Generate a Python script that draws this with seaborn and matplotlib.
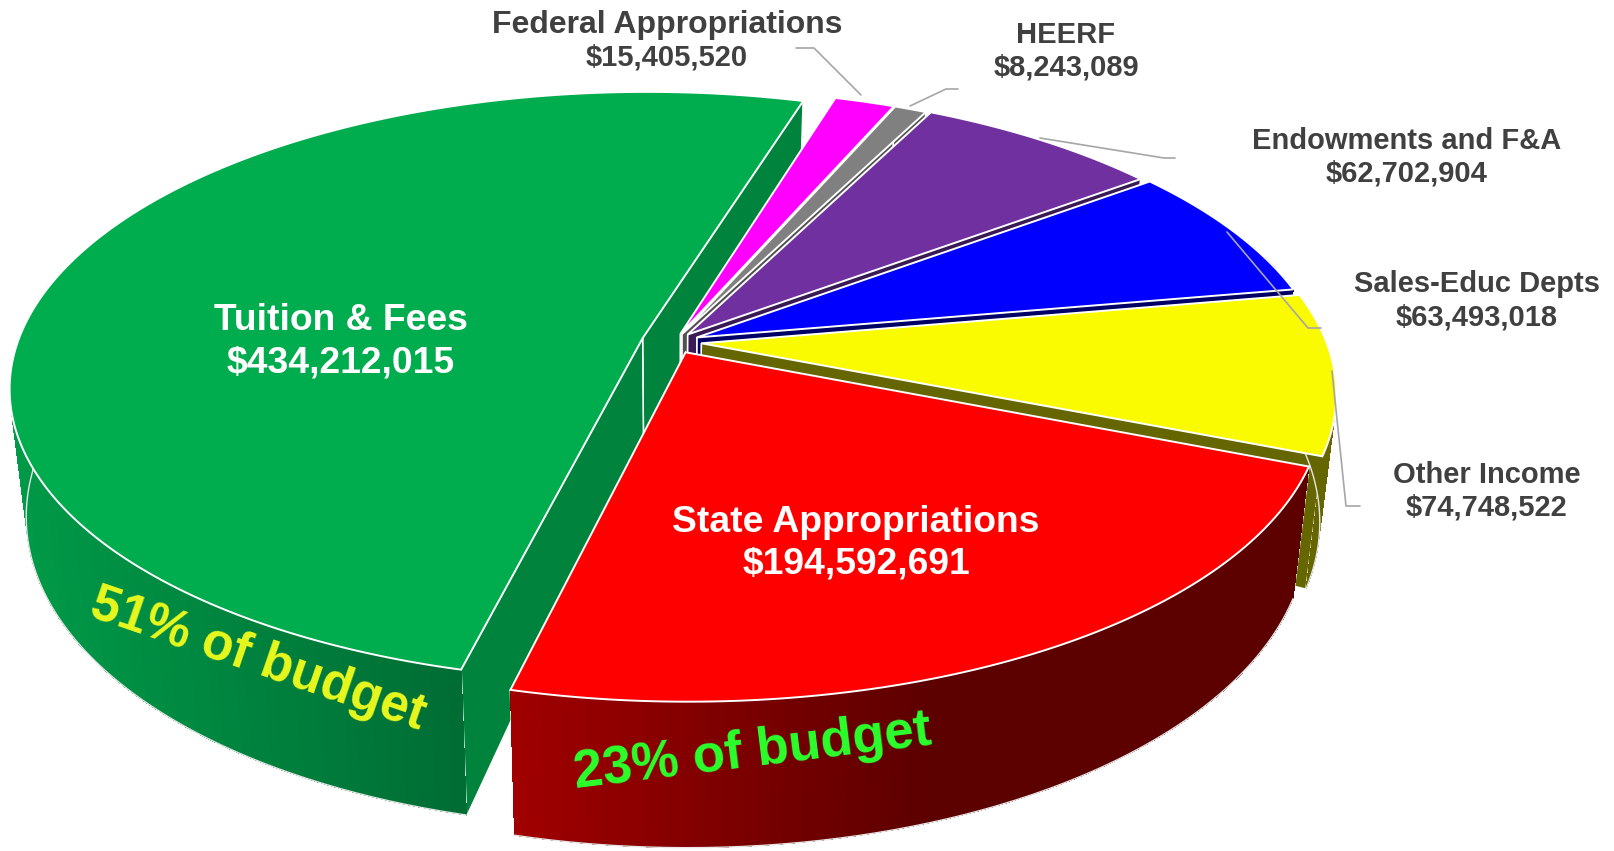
import numpy as np
import seaborn as sns
import matplotlib.pyplot as plt
from matplotlib.collections import PolyCollection
from matplotlib.colors import to_rgb

# counter-clockwise from the right edge of state appropriations
categories = ["Other Income", "Sales-Educ Depts", "Endowments and F&A", "HEERF",
              "Federal Appropriations", "Tuition & Fees", "State Appropriations"]
amounts = [74748522, 63493018, 62702904, 8243089, 15405520, 434212015, 194592691]
top_colors = ["#FAFA00", "#0000FF", "#7030A0", "#808080", "#FF00FF", "#00AD4E", "#FF0000"]
side_left = ["#666600", "#000066", "#3A1A55", "#505050", "#800080", "#009A48", "#A00000"]
side_right = ["#666600", "#000066", "#3A1A55", "#505050", "#800080", "#006C34", "#5C0000"]
explode = [0.044, 0.04, 0.034, 0.03, 0.03, 0.052, 0.04]
start_angle = -21.6

# projection of the pie plane onto the picture
CX, CY = 674, 342
A, B, K = 625, 288, 0.165

sns.set_theme(style="white")
plt.rcParams["font.family"] = ["Liberation Sans", "DejaVu Sans"]
palette = sns.color_palette(top_colors)

fig = plt.figure(figsize=(16.15, 8.51), dpi=100)
ax = fig.add_axes([0, 0, 1, 1])
ax.set_xlim(0, 1615)
ax.set_ylim(851, 0)
ax.axis("off")


def project(x, y):
    w = 1 + K * y
    return CX + A * x / w, CY - B * y / w


def lower(sx, sy, x, y, ex, ey):
    # drop from the top face to the bottom face
    r = np.hypot(x - ex, y - ey)
    yy = y - ey
    return sx - 0.025 * (sx - CX), sy + 96 + r * (28 - 22 * yy)


def draw_slice(i, t0, t1):
    mid = np.radians((t0 + t1) / 2)
    ex, ey = explode[i] * np.cos(mid), explode[i] * np.sin(mid)
    th = np.radians(np.linspace(t0, t1, max(int(t1 - t0) * 2, 8)))
    x, y = ex + np.cos(th), ey + np.sin(th)
    sx, sy = project(x, y)
    bx, by = lower(sx, sy, x, y, ex, ey)
    ax_, ay_ = project(ex, ey)
    abx, aby = lower(ax_, ay_, ex, ey, ex, ey)

    # radial faces, the far one first
    dark = side_right[i] if i != 5 else "#00843D"
    for k in (-1, 0):
        ax.fill([ax_, sx[k], bx[k], abx], [ay_, sy[k], by[k], aby], color=dark, lw=0, zorder=order[i])
        ax.plot([sx[k], bx[k]], [sy[k], by[k]], color="white", lw=1.2, zorder=order[i] + 0.1)
        ax.plot([ax_, abx], [ay_, aby], color="white", lw=1.0, zorder=order[i] + 0.1)

    # outer wall with its left to right shading, front part only
    c0, c1 = np.array(to_rgb(side_left[i])), np.array(to_rgb(side_right[i]))
    front = np.sin(th) < 0.35
    if front.sum() > 1:
        fx = sx[front]
        span = max(fx.max() - fx.min(), 1)
        rate = 1.9 if i == 6 else 1
        quads, cols = [], []
        for j in range(len(th) - 1):
            if front[j] and front[j + 1]:
                quads.append([(sx[j], sy[j]), (sx[j + 1], sy[j + 1]), (bx[j + 1], by[j + 1]), (bx[j], by[j])])
                f = min(1, (sx[j] - fx.min()) / span * rate)
                cols.append(c0 + (c1 - c0) * f)
        ax.add_collection(PolyCollection(quads, facecolors=cols, edgecolors="none", linewidths=0,
                                         antialiaseds=False, zorder=order[i] + 0.2))
        ax.plot(bx[front], by[front], color="#E6E6E6", lw=1.0, zorder=order[i] + 0.25)

    # top face
    ax.fill(np.r_[ax_, sx], np.r_[ay_, sy], facecolor=palette[i], edgecolor="white", lw=1.4,
            joinstyle="miter", zorder=order[i] + 0.3)


# painter order: tuition, the small back slices, then towards the front
order = [5, 4, 3, 2, 1, 0, 6]
angles = start_angle + np.r_[0, np.cumsum(amounts)] / np.sum(amounts) * 360
for i in range(len(amounts)):
    draw_slice(i, angles[i], angles[i + 1])

GRAY = "#A6A6A6"
leaders = [([796, 814, 861], [48, 48, 95]),
           ([910, 946, 958], [106, 89, 89]),
           ([1040, 1164, 1175], [138, 158, 158]),
           ([1227, 1308, 1321], [232, 328, 328]),
           ([1332, 1346, 1360], [371, 506, 506])]
for lx, ly in leaders:
    ax.plot(lx, ly, color=GRAY, lw=1.2, zorder=20)

outer_pos = {"Federal Appropriations": (667, 25), "HEERF": (1066, 35), "Endowments and F&A": (1407, 141),
             "Sales-Educ Depts": (1477, 284), "Other Income": (1487, 475)}
for name, (tx, ty) in outer_pos.items():
    val = amounts[categories.index(name)]
    size = 23 if name == "Federal Appropriations" else 21
    ax.text(tx, ty, name, ha="center", va="center", fontsize=size, fontweight="bold", color="#404040", zorder=30)
    ax.text(tx, ty + 33, f"${val:,}", ha="center", va="center", fontsize=21, fontweight="bold", color="#404040", zorder=30)

inner_pos = {"Tuition & Fees": (341, 321), "State Appropriations": (856, 522)}
for name, (tx, ty) in inner_pos.items():
    val = amounts[categories.index(name)]
    ax.text(tx, ty, name, ha="center", va="center", fontsize=26.8, fontweight="bold", color="white", zorder=30)
    ax.text(tx, ty + 42, f"${val:,}", ha="center", va="center", fontsize=26.8, fontweight="bold", color="white", zorder=30)

ax.text(258, 660, "51% of budget", ha="center", va="center", rotation=-19, rotation_mode="anchor",
        fontsize=37, fontweight="bold", color="#E8F81E", zorder=30)
ax.text(753, 752, "23% of budget", ha="center", va="center", rotation=7, rotation_mode="anchor",
        fontsize=38, fontweight="bold", color="#2BFF2B", zorder=30)

fig.savefig("out.png", dpi=100)
